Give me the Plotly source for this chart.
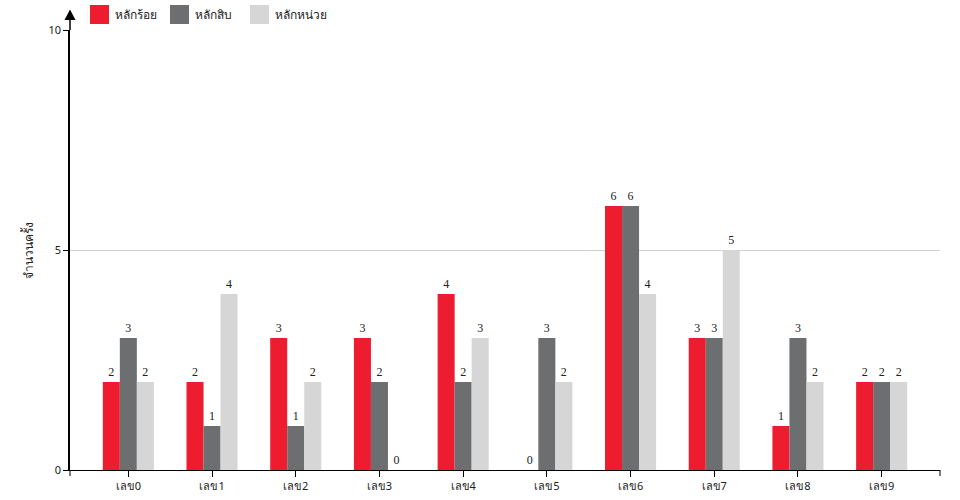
import plotly.graph_objects as go

categories = ["เลข0", "เลข1", "เลข2", "เลข3", "เลข4", "เลข5", "เลข6", "เลข7", "เลข8", "เลข9"]
series_names = ["หลักร้อย", "หลักสิบ", "หลักหน่วย"]
hundreds = [2, 2, 3, 3, 4, 0, 6, 3, 1, 2]
tens = [3, 1, 1, 2, 2, 3, 6, 3, 3, 2]
units = [2, 4, 2, 0, 3, 2, 4, 5, 2, 2]
colors = ["#ED1C2E", "#6D6E70", "#D6D6D6"]
y_title = "จำนวนครั้ง"

W, H = 960, 500
L, R, T, B = 70, 20, 30, 30
pw, ph = W - L - R, H - T - B

def px(x):
    return (x - L) / pw

def py(y):
    return (H - B - y) / ph

fig = go.Figure()
for name, vals, col in zip(series_names, [hundreds, tens, units], colors):
    fig.add_trace(go.Bar(
        x=categories, y=vals, name=name, marker=dict(color=col, line=dict(width=0)),
        text=[str(v) for v in vals], textposition="outside", cliponaxis=False,
        textfont=dict(family="Liberation Serif, serif", size=12, color="#222"),
        showlegend=False,
    ))

shapes = []
annotations = []
# manual legend
for i, (name, col) in enumerate(zip(series_names, colors)):
    x0 = 90 + 80 * i
    shapes.append(dict(type="rect", xref="paper", yref="paper",
                       x0=px(x0), x1=px(x0 + 19), y0=py(24), y1=py(5),
                       fillcolor=col, line=dict(width=0)))
    annotations.append(dict(xref="paper", yref="paper", x=px(x0 + 23), y=py(14.5),
                            text=name, showarrow=False, xanchor="left", yanchor="middle",
                            font=dict(family="Noto Sans, sans-serif", size=12, color="#222")))
# y axis extension + arrow
shapes.append(dict(type="line", xref="paper", yref="paper", x0=0, x1=0, y0=1, y1=py(19),
                   line=dict(color="black", width=1.5)))
shapes.append(dict(type="path", xref="paper", yref="paper",
                   path=f"M {px(64.5)} {py(20)} L {px(75.5)} {py(20)} L {px(70)} {py(9.5)} Z",
                   fillcolor="black", line=dict(width=0)))
# end ticks on x axis
for xx in [70, 940]:
    shapes.append(dict(type="line", xref="paper", yref="paper", x0=px(xx), x1=px(xx),
                       y0=0, y1=py(476), line=dict(color="black", width=1)))

fig.update_layout(
    width=W, height=H, margin=dict(l=L, r=R, t=T, b=B, autoexpand=False),
    paper_bgcolor="white", plot_bgcolor="white",
    barmode="group", bargap=0.39, bargroupgap=0,
    shapes=shapes, annotations=annotations,
    font=dict(family="Noto Sans, DejaVu Sans, sans-serif", size=11, color="#222"),
    xaxis=dict(range=[-0.697, 9.697], showline=True, linecolor="black", linewidth=1,
               ticks="outside", ticklen=6, tickcolor="black", showgrid=False,
               tickfont=dict(size=11), fixedrange=True, automargin=False),
    yaxis=dict(range=[0, 10], tickvals=[0, 5, 10], showline=True, linecolor="black",
               linewidth=1.5, ticks="outside", ticklen=5, tickcolor="black",
               showgrid=True, gridcolor="#D3D3D3", gridwidth=1, zeroline=False,
               title=dict(text=y_title, standoff=12, font=dict(size=12)),
               tickfont=dict(size=11), fixedrange=True, automargin=False),
)
fig.write_html("out.html", config={"displayModeBar": False},
               post_script="document.body.style.margin='0';")
